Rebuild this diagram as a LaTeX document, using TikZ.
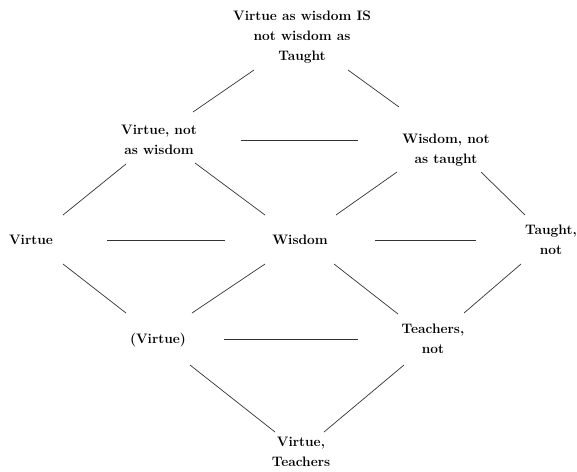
\documentclass[tikz,border=0pt]{standalone}
\begin{document}
\begin{tikzpicture}[x=1pt,y=-1pt,
  lbl/.style={inner sep=0pt,align=center,font=\fontsize{13.7}{20}\selectfont\bfseries},
  conn/.style={line width=0.7pt,draw=black!80}]
\useasboundingbox (0,0) rectangle (577,471);
\node[lbl] (T)   at (302,37)  {Virtue as wisdom IS\\not wisdom as\\Taught};
\node[lbl] (VnW) at (159,140) {Virtue, not\\as wisdom};
\node[lbl] (WnT) at (446,150) {Wisdom, not\\as taught};
\node[lbl] (Vi)  at (31,240)  {Virtue};
\node[lbl] (Wi)  at (300,240) {Wisdom};
\node[lbl] (Ta)  at (551,240) {Taught,\\not};
\node[lbl] (PV)  at (158,340) {(Virtue)};
\node[lbl] (Te)  at (433,339) {Teachers,\\not};
\node[lbl] (VT)  at (301,452) {Virtue,\\Teachers};
\draw[conn] ([shift={(-48,33)}]T.center) -- ([shift={(34,-28)}]VnW.center);
\draw[conn] ([shift={(46,33)}]T.center) -- ([shift={(-47,-43)}]WnT.center);
\draw[conn] ([shift={(82,0)}]VnW.center) -- ([shift={(-88,-10)}]WnT.center);
\draw[conn] ([shift={(-33,24)}]VnW.center) -- ([shift={(32,-25)}]Vi.center);
\draw[conn] ([shift={(36,23)}]VnW.center) -- ([shift={(-35,-25)}]Wi.center);
\draw[conn] ([shift={(-49,22)}]WnT.center) -- ([shift={(36,-25)}]Wi.center);
\draw[conn] ([shift={(35,22)}]WnT.center) -- ([shift={(-26,-25)}]Ta.center);
\draw[conn] ([shift={(76,0)}]Vi.center) -- ([shift={(-75,0)}]Wi.center);
\draw[conn] ([shift={(75,0)}]Wi.center) -- ([shift={(-75,0)}]Ta.center);
\draw[conn] ([shift={(32,24)}]Vi.center) -- ([shift={(-32,-27)}]PV.center);
\draw[conn] ([shift={(-35,24)}]Wi.center) -- ([shift={(34,-27)}]PV.center);
\draw[conn] ([shift={(34,24)}]Wi.center) -- ([shift={(-35,-25)}]Te.center);
\draw[conn] ([shift={(-30,24)}]Ta.center) -- ([shift={(31,-26)}]Te.center);
\draw[conn] ([shift={(66,-1)}]PV.center) -- ([shift={(-75,0)}]Te.center);
\draw[conn] ([shift={(32,25)}]PV.center) -- ([shift={(-26,-20)}]VT.center);
\draw[conn] ([shift={(-29,26)}]Te.center) -- ([shift={(23,-20)}]VT.center);
\end{tikzpicture}
\end{document}
